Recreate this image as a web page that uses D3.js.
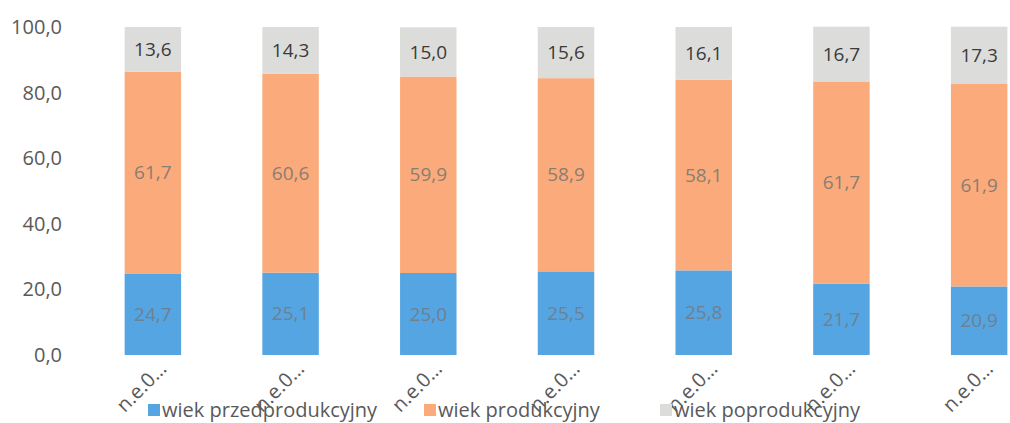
<!DOCTYPE html>
<meta charset="utf-8">
<style>
    body { margin: 0; background: #fff; }
    text { font-family: "Open Sans", "DejaVu Sans", sans-serif; }
    .tick-label { font-size: 20px; fill: #595959; }
    .legend { font-size: 20px; fill: #595959; }
</style>
<svg width="1010" height="423"></svg>
<script src="https://d3js.org/d3.v7.min.js"></script>
<script>
    // Data
    const categories = ["n.e.0…", "n.e.0… ", "n.e.0…  ", "n.e.0…   ", "n.e.0…    ", "n.e.0…     ", "n.e.0…      "];
    const preWorking = [24.7, 25.1, 25.0, 25.5, 25.8, 21.7, 20.9];
    const working = [61.7, 60.6, 59.9, 58.9, 58.1, 61.7, 61.9];
    const postWorking = [13.6, 14.3, 15.0, 15.6, 16.1, 16.7, 17.3];
    const seriesNames = ["wiek przedprodukcyjny", "wiek produkcyjny", "wiek poprodukcyjny"];
    const yTicks = [0, 20, 40, 60, 80, 100];

    const colors = ["#55a5e3", "#fbab7b", "#dcdddb"];
    const labelColors = ["#6f8090", "#8a7d72", "#3a3a3a"];

    const svg = d3.select("svg");

    const x = d3.scaleBand()
        .domain(categories)
        .range([84, 1048])
        .paddingInner(0.59)
        .paddingOuter(0.295);

    const y = d3.scaleLinear()
        .domain([0, 100])
        .range([355, 27]);

    const fmt = v => d3.format(".1f")(v).replace(".", ",");

    // y axis labels
    svg.append("g")
        .selectAll("text")
        .data(yTicks)
        .join("text")
        .attr("class", "tick-label")
        .attr("x", 62)
        .attr("y", d => y(d))
        .attr("dy", "0.35em")
        .attr("text-anchor", "end")
        .text(fmt);

    // stack
    const rows = categories.map((c, i) => ({
        cat: c,
        s0: preWorking[i],
        s1: working[i],
        s2: postWorking[i]
    }));
    const stack = d3.stack().keys(["s0", "s1", "s2"])(rows);

    stack.forEach((layer, k) => {
        const g = svg.append("g");
        g.selectAll("rect")
            .data(layer)
            .join("rect")
            .attr("x", d => x(d.data.cat))
            .attr("width", x.bandwidth())
            .attr("y", d => y(d[1]))
            .attr("height", d => y(d[0]) - y(d[1]))
            .attr("fill", colors[k]);

        g.selectAll("text")
            .data(layer)
            .join("text")
            .attr("x", d => x(d.data.cat) + x.bandwidth() / 2)
            .attr("y", d => (y(d[0]) + y(d[1])) / 2)
            .attr("dy", "0.35em")
            .attr("text-anchor", "middle")
            .attr("font-size", 19)
            .attr("fill", labelColors[k])
            .text(d => fmt(d[1] - d[0]));
    });

    // x labels, rotated
    svg.append("g")
        .selectAll("text")
        .data(categories)
        .join("text")
        .attr("class", "tick-label")
        .attr("font-size", 18)
        .attr("text-anchor", "end")
        .attr("transform", d => `translate(${x(d) + x.bandwidth() / 2 + 15},${370}) rotate(-45)`)
        .text(d => d.trim());

    // legend
    const legendX = [148, 424, 660];
    const legend = svg.append("g");
    seriesNames.forEach((name, i) => {
        legend.append("rect")
            .attr("x", legendX[i])
            .attr("y", 404)
            .attr("width", 12)
            .attr("height", 12)
            .attr("fill", colors[i]);
        legend.append("text")
            .attr("class", "legend")
            .attr("x", legendX[i] + 14)
            .attr("y", 410)
            .attr("dy", "0.35em")
            .text(name);
    });
</script>
